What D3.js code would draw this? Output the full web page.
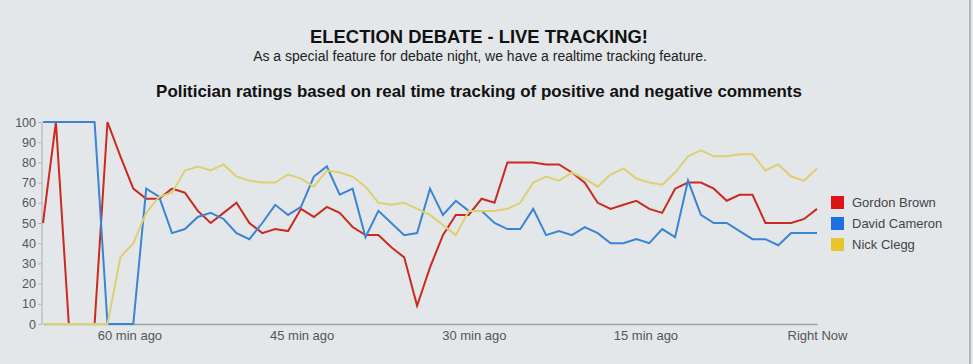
<!DOCTYPE html>
<html>
<head>
<meta charset="utf-8">
<script src="https://cdn.jsdelivr.net/npm/d3@7"></script>
<style>
    body { margin: 0; background: #e4e7ea; }
    svg { display: block; font-family: "Liberation Sans", Arial, sans-serif; }
</style>
</head>
<body>
<svg id="viz" width="973" height="364"></svg>
<script>
// DATA - one reading per sample, oldest first
var seriesNames = ["Gordon Brown", "David Cameron", "Nick Clegg"];
var gordonBrown = [50, 100, 0, 0, 0, 100, 83, 67, 62, 62, 67, 65, 56, 50, 55, 60, 50, 45, 47, 46,
    57, 53, 58, 55, 48, 44, 44, 38, 33, 9, 28, 44, 54, 54, 62, 60, 80, 80, 80, 79,
    79, 75, 70, 60, 57, 59, 61, 57, 55, 67, 70, 70, 67, 61, 64, 64, 50, 50, 50, 52, 57];
var davidCameron = [100, 100, 100, 100, 100, 0, 0, 0, 67, 63, 45, 47, 53, 55, 52, 45, 42, 50, 59, 54,
    58, 73, 78, 64, 67, 43, 56, 50, 44, 45, 67, 54, 61, 56, 56, 50, 47, 47, 57, 44,
    46, 44, 48, 45, 40, 40, 42, 40, 47, 43, 71, 54, 50, 50, 46, 42, 42, 39, 45, 45, 45];
var nickClegg = [0, 0, 0, 0, 0, 0, 33, 40, 55, 63, 65, 76, 78, 76, 79, 73, 71, 70, 70, 74,
    72, 68, 76, 75, 73, 68, 60, 59, 60, 57, 54, 49, 44, 56, 56, 56, 57, 60, 70, 73,
    71, 75, 72, 68, 74, 77, 72, 70, 69, 75, 83, 86, 83, 83, 84, 84, 76, 79, 73, 71, 77];
var xTickLabels = ["60 min ago", "45 min ago", "30 min ago", "15 min ago", "Right Now"];
var xTickSamples = [6.7, 20.05, 33.4, 46.7, 60]; // sample index under each label
var yTickValues = [0, 10, 20, 30, 40, 50, 60, 70, 80, 90, 100];

(function () {
    'use strict';

    var svg = d3.select("#viz");
    var W = 973, H = 364;
    var plot = { left: 43, right: 817, top: 122, bottom: 324 }; //PLOT AREA
    var lineColors = ["#cc2a1f", "#3a84d6", "#ddcf72"];
    var keyColors = ["#dc1414", "#1c70df", "#e6c62a"];

    //TITLES
    svg.append("text")
        .attr("x", 479).attr("y", 43)
        .attr("text-anchor", "middle")
        .style("font-size", "18.4px").style("font-weight", "bold").style("fill", "#111")
        .text("ELECTION DEBATE - LIVE TRACKING!");
    svg.append("text")
        .attr("x", 480).attr("y", 61)
        .attr("text-anchor", "middle")
        .style("font-size", "14px").style("fill", "#222")
        .text("As a special feature for debate night, we have a realtime tracking feature.");
    svg.append("text")
        .attr("x", 479).attr("y", 97)
        .attr("text-anchor", "middle")
        .style("font-size", "16.9px").style("font-weight", "bold").style("fill", "#111")
        .text("Politician ratings based on real time tracking of positive and negative comments");

    //SCALES
    var xScale = d3.scaleLinear()
        .domain([0, gordonBrown.length - 1])
        .range([plot.left, plot.right]);
    var yScale = d3.scaleLinear()
        .domain([0, 100])
        .range([plot.bottom, plot.top]);

    //AXES
    var yAxis = d3.axisLeft(yScale)
        .tickValues(yTickValues)
        .tickSize(4)
        .tickPadding(2);
    var gy = svg.append("g")
        .attr("class", "y axis")
        .attr("transform", "translate(" + (plot.left - 1) + ",0)")
        .call(yAxis);
    gy.select(".domain").attr("stroke", "#a9adb1").attr("d", "M0," + plot.top + "V" + plot.bottom);
    gy.selectAll("line").attr("stroke", "#b5b9bd");
    gy.selectAll("text")
        .style("font-size", "12.5px").style("fill", "#555").style("font-family", "Liberation Sans, Arial, sans-serif");

    var xAxis = d3.axisBottom(xScale)
        .tickValues(xTickSamples)
        .tickFormat(function (d, i) { return xTickLabels[i]; })
        .tickSize(0)
        .tickPadding(7);
    var gx = svg.append("g")
        .attr("class", "x axis")
        .attr("transform", "translate(0," + plot.bottom + ")")
        .call(xAxis);
    gx.select(".domain").attr("stroke", "#9da1a5").attr("stroke-width", 1.3);
    gx.selectAll("text")
        .style("font-size", "13px").style("fill", "#555").style("font-family", "Liberation Sans, Arial, sans-serif");

    //LINES
    var line = d3.line()
        .x(function (d, i) { return xScale(i); })
        .y(function (d) { return yScale(d); });
    var allSeries = [gordonBrown, davidCameron, nickClegg];
    svg.selectAll(".series")
        .data(allSeries)
        .enter()
        .append("path")
        .attr("class", "series")
        .attr("d", line)
        .attr("fill", "none")
        .attr("stroke", function (d, i) { return lineColors[i]; })
        .attr("stroke-width", 2)
        .attr("stroke-linejoin", "miter");

    //LEGEND
    var legend = svg.selectAll(".key")
        .data(seriesNames)
        .enter()
        .append("g")
        .attr("class", "key")
        .attr("transform", function (d, i) { return "translate(831," + (196 + i * 21) + ")"; });
    legend.append("rect")
        .attr("width", 13).attr("height", 13)
        .attr("fill", function (d, i) { return keyColors[i]; });
    legend.append("text")
        .attr("x", 21).attr("y", 11)
        .style("font-size", "13px").style("fill", "#444")
        .text(function (d) { return d; });

    //SCREEN FRAME ON THE RIGHT
    svg.append("line")
        .attr("x1", 970).attr("x2", 970).attr("y1", 0).attr("y2", H)
        .attr("stroke", "#a4a8ac").attr("stroke-width", 1.5);
}());
</script>
</body>
</html>
